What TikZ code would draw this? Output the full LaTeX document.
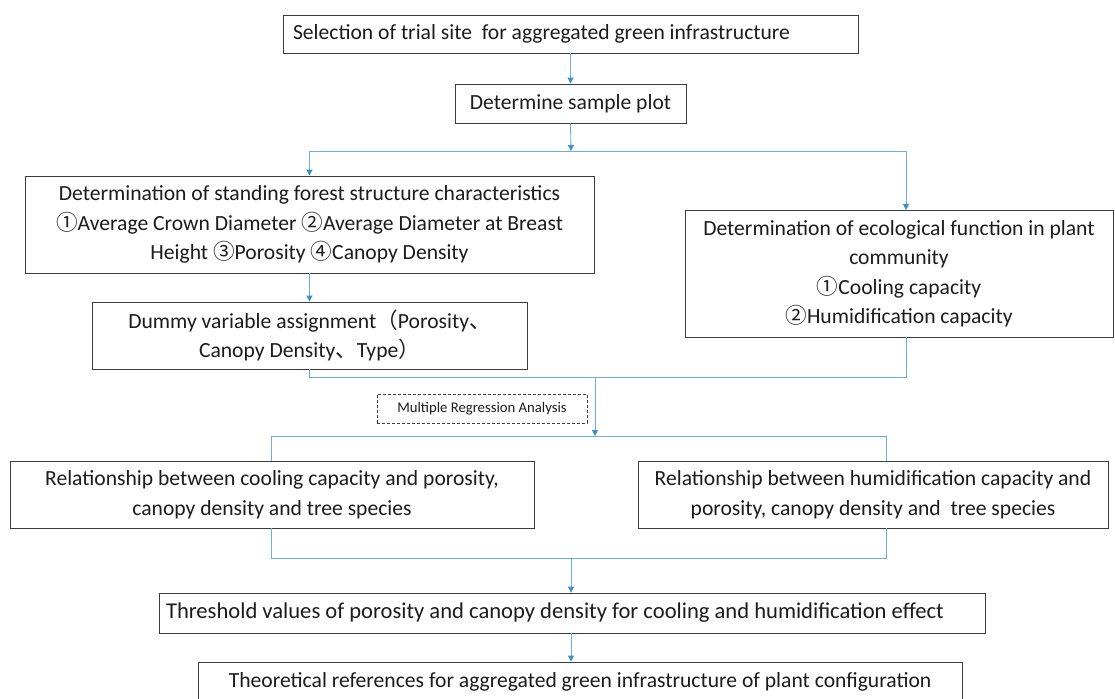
\documentclass[tikz,border=0pt]{standalone}
\usepackage{fontspec}
\setmainfont{Carlito}
\newfontfamily\cjk{Noto Sans CJK SC}
\usetikzlibrary{arrows.meta}
\definecolor{boxgray}{HTML}{3C3C3C}
\definecolor{linecol}{HTML}{6AB0DC}
\definecolor{arrowcol}{HTML}{3B8FCA}
\definecolor{textcol}{HTML}{1C1C1C}
\newcommand{\cn}[1]{{\cjk #1}}
\newcommand{\natsp}{\spaceskip=0pt\xspaceskip=0pt\relax}
\begin{document}
\begin{tikzpicture}[x=1pt,y=-1pt,
  box/.style={draw=boxgray, line width=0.9pt, fill=white, text=textcol, inner sep=0pt,
    font=\fontsize{21.6}{29.5}\selectfont, align=center},
  conn/.style={draw=linecol, line width=0.9pt},
  arr/.style={conn, -{Triangle[width=6pt,length=6pt,color=arrowcol]}}]
\useasboundingbox (0,0) rectangle (1115,698);
\clip (0,0) rectangle (1115,698);
% boxes
\node[box, minimum width=575, minimum height=38, text width=555, align=left] (top) at (570.5,34)
  {\natsp Selection of trial site~ for aggregated green infrastructure\hfill\null};
\node[box, minimum width=231, minimum height=39] (det) at (570.5,103.5) {Determine sample plot};
\node[box, minimum width=569, minimum height=97] (left) at (309.5,224.5)
  {Determination of standing forest structure characteristics\\
   \cn{①}Average Crown Diameter \cn{②}Average Diameter at Breast\\
   Height \cn{③}Porosity \cn{④}Canopy Density};
\node[box, minimum width=428, minimum height=127] (right) at (899,273.5)
  {Determination of ecological function in plant\\ community\\ \cn{①}Cooling capacity\\ \cn{②}Humidification capacity};
\node[box, minimum width=435, minimum height=67] (dummy) at (309.5,335.5)
  {Dummy variable assignment\cn{（}Porosity\cn{、}\\ Canopy Density\cn{、}Type\cn{）}};
\node[box, dashed, dash pattern=on 3pt off 2pt, minimum width=210, minimum height=29,
  font=\fontsize{14.7}{17}\selectfont] (mra) at (482,408.5) {Multiple Regression Analysis};
\node[box, minimum width=524, minimum height=67] (rel1) at (272,494.5)
  {Relationship between cooling capacity and porosity,\\ canopy density and tree species};
\node[box, minimum width=470, minimum height=67] (rel2) at (873,494.5)
  {Relationship between humidification capacity and\\ porosity, canopy density and~ tree species};
\node[box, minimum width=826, minimum height=40, text width=812, align=left,
  font=\fontsize{22.6}{29.5}\selectfont] (thr) at (572,613)
  {\natsp Threshold values of porosity and canopy density for cooling and humidification effect\hfill\null};
\node[box, minimum width=764, minimum height=40] (theo) at (580,682)
  {Theoretical references for aggregated green infrastructure of plant configuration};
% helper coordinates
\coordinate (s1) at (571,151);
\coordinate (rtop) at (906,210);
\coordinate (rbot) at (906,337);
\coordinate (m1) at (595,377);
\coordinate (m2) at (595,436);
\coordinate (r1t) at (271,461);
\coordinate (r1b) at (271,528);
\coordinate (r2t) at (886,461);
\coordinate (r2b) at (886,528);
\coordinate (m3) at (571,558);
% connectors
\draw[arr] (top.south) -- (det.north);
\draw[arr] (det.south) -- (s1);
\draw[conn] (left.north |- s1) -- (rtop |- s1);
\draw[arr] (left.north |- s1) -- (left.north);
\draw[arr] (rtop |- s1) -- (rtop);
\draw[arr] (left.south) -- (dummy.north);
\draw[conn] (dummy.south) -- (dummy.south |- m1) -- (rbot |- m1) -- (rbot);
\draw[arr] (m1) -- (m2);
\draw[conn] (r1t) -- (r1t |- m2) -- (r2t |- m2) -- (r2t);
\draw[conn] (r1b) -- (r1b |- m3) -- (r2b |- m3) -- (r2b);
\draw[arr] (m3) -- (m3 |- thr.north);
\draw[arr] (m3 |- thr.south) -- (m3 |- theo.north);
\end{tikzpicture}
\end{document}
